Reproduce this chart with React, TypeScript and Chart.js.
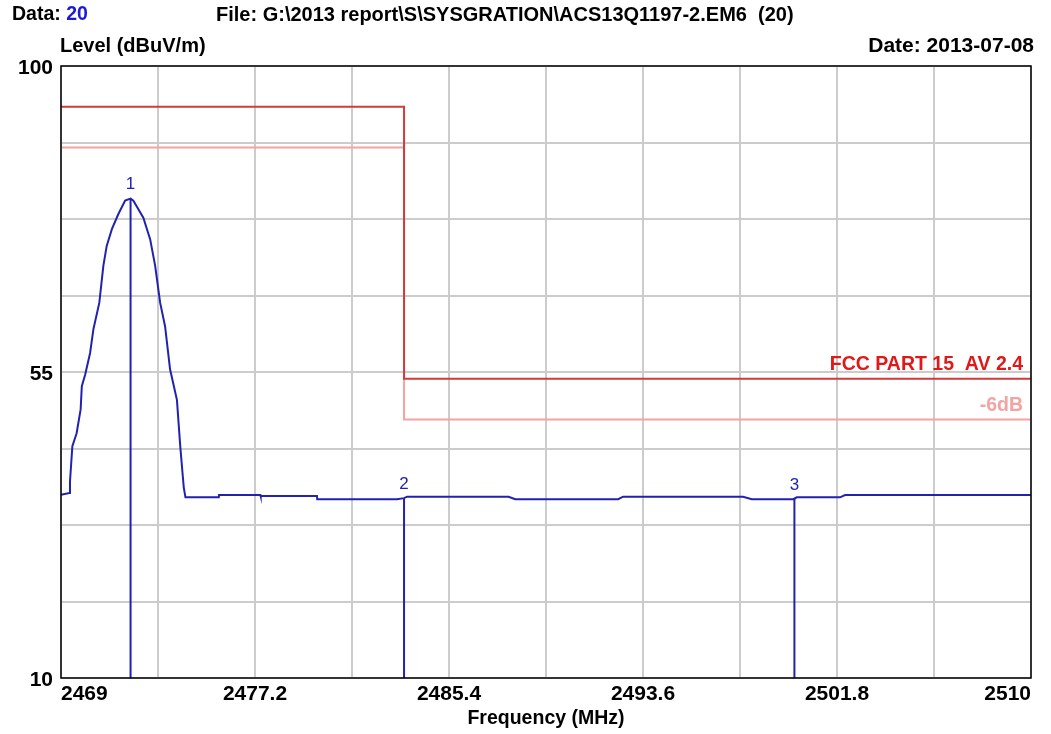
import React, { useEffect, useRef } from 'react';
import { Chart, registerables } from 'chart.js';

Chart.register(...registerables);

// ---- data ----
const traceFreq = [
  2469.0, 2469.35, 2469.38, 2469.48, 2469.66, 2469.83, 2469.88, 2470.02, 2470.23, 2470.37,
  2470.62, 2470.79, 2470.93, 2471.15, 2471.42, 2471.71, 2471.94, 2472.06, 2472.48, 2472.77,
  2472.98, 2473.19, 2473.40, 2473.61, 2473.90, 2474.04, 2474.15, 2474.19, 2474.26, 2475.67,
  2475.68, 2477.43, 2477.44, 2479.82, 2479.83, 2483.2, 2483.5, 2483.63, 2487.92, 2488.2,
  2492.55, 2492.76, 2497.83, 2498.2, 2499.95, 2500.1, 2501.93, 2502.14, 2510.0,
];
const traceLevel = [
  36.95, 37.2, 38.9, 44.1, 46.0, 49.5, 52.9, 54.6, 57.8, 61.3,
  65.2, 70.6, 73.5, 76.0, 78.2, 80.2, 80.5, 80.2, 77.7, 74.5,
  70.6, 65.2, 61.7, 55.4, 50.9, 44.1, 39.6, 38.0, 36.57, 36.57,
  36.9, 36.9, 36.76, 36.76, 36.3, 36.3, 36.45, 36.66, 36.66, 36.3,
  36.3, 36.66, 36.66, 36.3, 36.3, 36.57, 36.57, 36.9, 36.9,
];

const limitFreq = [2469, 2483.5, 2483.5, 2510];
const fccLimitLevel = [94, 94, 54, 54];
const minus6dBLevel = [88, 88, 48, 48];

const markerNumbers = ['1', '2', '3'];
const markerFreq = [2471.94, 2483.5, 2500.0];
const markerLevel = [80.5, 36.45, 36.35];

const xGridValues = [2469, 2473.1, 2477.2, 2481.3, 2485.4, 2489.5, 2493.6, 2497.7, 2501.8, 2505.9, 2510];
const xTickLabels = ['2469', '', '2477.2', '', '2485.4', '', '2493.6', '', '2501.8', '', '2510'];
const yGridValues = [10, 21.25, 32.5, 43.75, 55, 66.25, 77.5, 88.75, 100];
const yTickLabels = ['10', '', '', '', '55', '', '', '', '100'];

const dataNumber = '20';
const fileText = 'File: G:\\2013 report\\S\\SYSGRATION\\ACS13Q1197-2.EM6  (20)';
const yTitle = 'Level (dBuV/m)';
const dateText = 'Date: 2013-07-08';
const xTitle = 'Frequency (MHz)';
const fccLabel = 'FCC PART 15  AV 2.4';
const minus6Label = '-6dB';

const FONT = '"Liberation Sans", Arial, Helvetica, sans-serif';
const BLUE = '#2222b0';
const RED = '#d43a3a';
const RED_TEXT = '#e01818';
const PINK = '#f2a4a4';
const GRID = '#cccccc';

export default function App() {
  const ref = useRef<HTMLCanvasElement>(null);

  useEffect(() => {
    const canvas = ref.current!;
    const xy = (xs: number[], ys: number[]) => xs.map((x, i) => ({ x, y: ys[i] }));

    const markerSets = markerFreq.map((f, i) => ({
      data: [{ x: f, y: markerLevel[i] }, { x: f, y: yGridValues[0] }],
      borderColor: BLUE,
      borderWidth: 2,
      pointRadius: 0,
      showLine: true,
    }));

    const textPlugin = {
      id: 'texts',
      afterDraw(chart: any) {
        const ctx = chart.ctx as CanvasRenderingContext2D;
        const { left, right, top, bottom } = chart.chartArea;
        const xs = chart.scales.x;
        const ys = chart.scales.y;
        ctx.save();
        // frame
        ctx.strokeStyle = '#000';
        ctx.lineWidth = 1.5;
        ctx.strokeRect(left, top, right - left, bottom - top);

        ctx.textBaseline = 'middle';
        ctx.font = `bold 19.5px ${FONT}`;
        ctx.fillStyle = '#000';
        ctx.textAlign = 'left';
        const dl = 'Data: ';
        ctx.fillText(dl, 12, 15);
        const w = ctx.measureText(dl).width;
        ctx.fillStyle = '#1a1ad8';
        ctx.fillText(dataNumber, 12 + w, 15);
        ctx.fillStyle = '#000';
        ctx.font = `bold 20px ${FONT}`;
        ctx.fillText(fileText, 216, 15);
        ctx.fillText(yTitle, 60, 46);
        ctx.textAlign = 'right';
        ctx.font = `bold 21px ${FONT}`;
        ctx.fillText(dateText, 1034, 46);

        // limit labels
        ctx.font = `bold 19.5px ${FONT}`;
        ctx.fillStyle = RED_TEXT;
        ctx.fillText(fccLabel, right - 8, ys.getPixelForValue(fccLimitLevel[3]) - 14);
        ctx.fillStyle = PINK;
        ctx.fillText(minus6Label, right - 8, ys.getPixelForValue(minus6dBLevel[3]) - 14);

        // marker labels
        ctx.font = `17px ${FONT}`;
        ctx.fillStyle = BLUE;
        ctx.textAlign = 'center';
        markerFreq.forEach((f, i) => {
          ctx.fillText(markerNumbers[i], xs.getPixelForValue(f), ys.getPixelForValue(markerLevel[i]) - 14);
        });
        ctx.restore();
      },
    };

    const tickFont = { family: FONT, size: 21, weight: 'bold' as const };

    const chart = new Chart(canvas, {
      type: 'scatter',
      data: {
        datasets: [
          {
            data: xy(traceFreq, traceLevel),
            borderColor: BLUE,
            borderWidth: 2,
            pointRadius: 0,
            showLine: true,
          },
          ...markerSets,
          {
            data: xy(limitFreq, fccLimitLevel),
            borderColor: RED,
            borderWidth: 2,
            pointRadius: 0,
            showLine: true,
          },
          {
            data: xy(limitFreq, minus6dBLevel),
            borderColor: PINK,
            borderWidth: 2,
            pointRadius: 0,
            showLine: true,
          },
        ] as any,
      },
      options: {
        animation: false,
        responsive: false,
        devicePixelRatio: 1,
        layout: { padding: { top: 66, right: 20, left: 0, bottom: 0 } },
        plugins: { legend: { display: false }, tooltip: { enabled: false } },
        scales: {
          x: {
            type: 'linear',
            min: xGridValues[0],
            max: xGridValues[xGridValues.length - 1],
            afterBuildTicks: (s: any) => {
              s.ticks = xGridValues.map((v) => ({ value: v }));
            },
            afterFit: (s: any) => {
              s.height = 56;
            },
            ticks: {
              callback: (_v: any, i: number) => xTickLabels[i],
              font: tickFont,
              color: '#000',
              maxRotation: 0,
              autoSkip: false,
              align: 'inner',
              padding: 4,
            },
            grid: { color: GRID, lineWidth: 2, drawTicks: false },
            border: { display: false },
            title: {
              display: true,
              text: xTitle,
              color: '#000',
              font: { family: FONT, size: 19.5, weight: 'bold' },
              padding: { top: 0, bottom: 4 },
            },
          },
          y: {
            type: 'linear',
            min: yGridValues[0],
            max: yGridValues[yGridValues.length - 1],
            afterBuildTicks: (s: any) => {
              s.ticks = yGridValues.map((v) => ({ value: v }));
            },
            afterFit: (s: any) => {
              s.width = 61;
            },
            ticks: {
              callback: (_v: any, i: number) => yTickLabels[i],
              font: tickFont,
              color: '#000',
              autoSkip: false,
              padding: 8,
              labelOffset: 2,
            },
            grid: { color: GRID, lineWidth: 2, drawTicks: false },
            border: { display: false },
          },
        },
      } as any,
      plugins: [textPlugin],
    });
    return () => chart.destroy();
  }, []);

  return (
    <div style={{ position: 'fixed', left: 0, top: 0, width: 1051, height: 734, background: '#fff' }}>
      <canvas ref={ref} width={1051} height={734} style={{ width: 1051, height: 734, display: 'block' }} />
    </div>
  );
}
